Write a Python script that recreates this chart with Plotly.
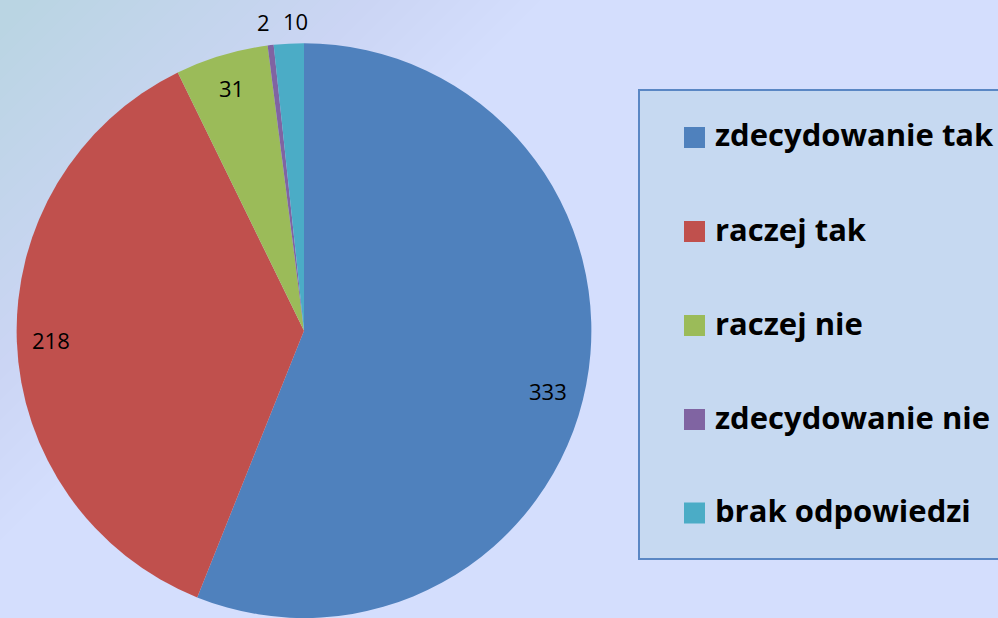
import math
import plotly.graph_objects as go

# ---- data ----
categories = ["zdecydowanie tak", "raczej tak", "raczej nie", "zdecydowanie nie", "brak odpowiedzi"]
values = [333, 218, 31, 2, 10]
colors = ["#4f81bd", "#c0504d", "#9bbb59", "#8064a2", "#4bacc6"]
label_outside = [False, False, False, True, True]
label_nudge_x_px = [-4, 0, 0, -4, 8]   # small nudges (best-fit style placement)
label_nudge_y_px = [13, 0, 0, 0, 0]

# ---- layout constants (pixels) ----
W, H = 998, 618
CX = 304             # pie centre x (px)
DOM_Y = [0.0, 0.93]  # pie vertical domain
R = (DOM_Y[1] - DOM_Y[0]) * H / 2.0
CY_PAPER = (DOM_Y[0] + DOM_Y[1]) / 2.0


def px(x):
    return x / W


def py(y):
    return 1 - y / H


fig = go.Figure()
fig.add_trace(go.Pie(
    labels=categories,
    values=values,
    marker=dict(colors=colors, line=dict(width=0)),
    sort=False,
    direction="clockwise",
    rotation=0,
    textinfo="none",
    hoverinfo="skip",
    showlegend=False,
    domain=dict(x=[(CX - 300) / W, (CX + 300) / W], y=DOM_Y),
))

# ---- data labels computed from the values ----
total = sum(values)
annotations = []
cum = 0
for v, outside, nx, ny in zip(values, label_outside, label_nudge_x_px, label_nudge_y_px):
    mid = (cum + v / 2.0) / total * 2 * math.pi
    cum += v
    rf = 1.08 if outside else 0.88
    x = (CX + nx) / W + rf * R * math.sin(mid) / W
    y = CY_PAPER - ny / H + rf * R * math.cos(mid) / H
    annotations.append(dict(
        x=x, y=y, xref="paper", yref="paper", text=str(v), showarrow=False,
        xanchor="center", yanchor="middle",
        font=dict(family="Open Sans", size=22, color="#000000"),
    ))

shapes = []
# background: soft diagonal tint from the top-left corner
n_bands = 26
for i in range(n_bands):
    d = 540 - i * 20
    shapes.append(dict(
        type="path", xref="paper", yref="paper", layer="below",
        path="M {:.5f},{:.5f} L {:.5f},{:.5f} L {:.5f},{:.5f} Z".format(
            px(0), py(0), px(d), py(0), px(0), py(d)),
        fillcolor="rgba(188,208,194,0.024)", line=dict(width=0),
    ))

# ---- legend box ----
shapes.append(dict(
    type="rect", xref="paper", yref="paper", layer="above",
    x0=px(639), x1=px(1010), y0=py(559), y1=py(90),
    fillcolor="#c6d9f1", line=dict(color="#5a87c4", width=2),
))
item_y = [137.5, 231.5, 325.5, 419.5, 513]
for cat, col, yc in zip(categories, colors, item_y):
    shapes.append(dict(
        type="rect", xref="paper", yref="paper", layer="above",
        x0=px(684), x1=px(705), y0=py(yc + 10.5), y1=py(yc - 10.5),
        fillcolor=col, line=dict(width=0),
    ))
    annotations.append(dict(
        x=px(713), y=py(yc - 3), xref="paper", yref="paper", text="<b>" + cat + "</b>",
        showarrow=False, xanchor="left", yanchor="middle",
        font=dict(family="Open Sans", size=31, color="#000000"),
    ))

fig.update_layout(
    width=W, height=H,
    margin=dict(l=0, r=0, t=0, b=0),
    paper_bgcolor="#d4defd",
    plot_bgcolor="rgba(0,0,0,0)",
    shapes=shapes,
    annotations=annotations,
    showlegend=False,
)

fig.write_html(
    "out.html",
    config={"displayModeBar": False},
    post_script="document.body.style.margin='0';document.body.style.overflow='hidden';",
)
